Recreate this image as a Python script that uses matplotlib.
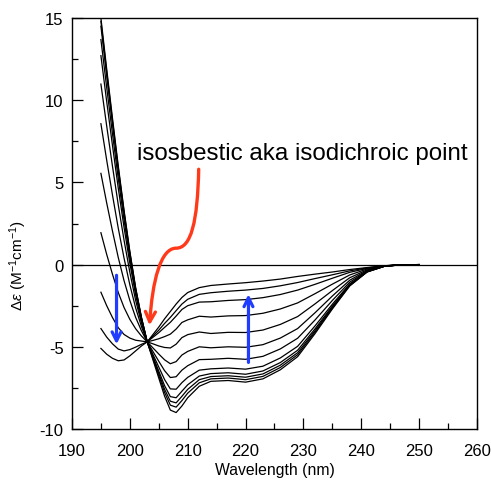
import matplotlib
matplotlib.use('Agg')
import matplotlib.pyplot as plt
from matplotlib.ticker import MultipleLocator
from matplotlib.patches import FancyArrowPatch
from matplotlib.path import Path
import numpy as np

plt.rcParams['font.family'] = ['Liberation Sans', 'DejaVu Sans']
plt.rcParams['axes.unicode_minus'] = False
plt.rcParams['mathtext.fontset'] = 'custom'
plt.rcParams['mathtext.rm'] = 'Liberation Sans'
plt.rcParams['mathtext.it'] = 'Liberation Sans:italic'

# wavelengths (nm) where the spectra were read
wavelength = [195, 196, 197, 198, 199, 200, 201, 202, 203, 204, 205, 206, 207, 208, 209,
              210, 212, 214, 217, 220, 223, 226, 229, 232, 235, 238, 241, 244, 247, 250]

# CD spectra, from least ordered (coil) to most helical
spec_01 = [-5.1, -5.45, -5.7, -5.85, -5.8, -5.55, -5.25, -4.95, -4.7, -4.25, -3.8, -3.3, -2.85, -2.4, -2.0,
           -1.7, -1.4, -1.27, -1.18, -1.1, -1.0, -0.88, -0.72, -0.58, -0.45, -0.3, -0.18, -0.07, -0.01, 0.0]
spec_02 = [-3.89, -4.41, -4.82, -5.14, -5.25, -5.17, -5.02, -4.85, -4.7, -4.34, -3.99, -3.58, -3.21, -2.8, -2.4,
           -2.11, -1.81, -1.71, -1.62, -1.55, -1.45, -1.29, -1.09, -0.85, -0.62, -0.38, -0.2, -0.07, -0.01, 0.0]
spec_03 = [-1.68, -2.5, -3.22, -3.84, -4.25, -4.47, -4.6, -4.65, -4.7, -4.42, -4.14, -3.82, -3.51, -3.13, -2.73,
           -2.5, -2.28, -2.26, -2.18, -2.13, -2.01, -1.82, -1.55, -1.2, -0.83, -0.47, -0.23, -0.08, -0.01, 0.0]
spec_04 = [1.94, 0.62, -0.59, -1.7, -2.61, -3.33, -3.9, -4.34, -4.7, -4.61, -4.51, -4.38, -4.23, -3.92, -3.52,
           -3.36, -3.14, -3.19, -3.12, -3.1, -2.96, -2.7, -2.33, -1.77, -1.19, -0.63, -0.27, -0.08, -0.01, 0.0]
spec_05 = [5.55, 3.75, 2.04, 0.43, -0.98, -2.18, -3.21, -4.02, -4.7, -4.82, -4.95, -5.04, -5.07, -4.84, -4.44,
           -4.26, -4.1, -4.19, -4.12, -4.13, -3.98, -3.64, -3.16, -2.39, -1.58, -0.8, -0.32, -0.09, -0.01, 0.0]
spec_06 = [8.57, 6.35, 4.23, 2.21, 0.39, -1.23, -2.63, -3.76, -4.7, -5.07, -5.44, -5.79, -6.03, -5.9, -5.5,
           -5.28, -5.0, -5.06, -5.0, -5.03, -4.87, -4.47, -3.89, -2.93, -1.91, -0.95, -0.36, -0.09, -0.01, 0.0]
spec_07 = [10.98, 8.43, 5.98, 3.63, 1.48, -0.47, -2.17, -3.55, -4.7, -5.29, -5.88, -6.45, -6.87, -6.82, -6.42,
           -6.15, -5.78, -5.76, -5.7, -5.76, -5.58, -5.13, -4.48, -3.37, -2.18, -1.07, -0.39, -0.09, -0.01, 0.0]
spec_08 = [12.71, 9.92, 7.24, 4.65, 2.26, 0.08, -1.84, -3.4, -4.7, -5.47, -6.23, -6.99, -7.56, -7.58, -7.18,
           -6.86, -6.42, -6.34, -6.29, -6.36, -6.18, -5.68, -4.97, -3.73, -2.41, -1.17, -0.41, -0.1, -0.01, 0.0]
spec_09 = [13.69, 10.77, 7.95, 5.23, 2.71, 0.39, -1.65, -3.31, -4.7, -5.59, -6.48, -7.36, -8.03, -8.1, -7.7,
           -7.31, -6.78, -6.63, -6.58, -6.67, -6.47, -5.96, -5.21, -3.91, -2.52, -1.22, -0.43, -0.1, -0.01, 0.0]
spec_10 = [14.5, 11.47, 8.54, 5.7, 3.07, 0.64, -1.5, -3.24, -4.7, -5.66, -6.62, -7.58, -8.31, -8.41, -8.01,
           -7.59, -7.0, -6.81, -6.76, -6.85, -6.65, -6.12, -5.36, -4.02, -2.59, -1.25, -0.44, -0.1, -0.01, 0.0]
spec_11 = [14.8, 11.73, 8.75, 5.88, 3.21, 0.74, -1.44, -3.22, -4.7, -5.72, -6.75, -7.77, -8.55, -8.67, -8.27,
           -7.82, -7.19, -6.95, -6.9, -7.0, -6.8, -6.26, -5.48, -4.11, -2.64, -1.28, -0.44, -0.1, -0.01, 0.0]
spec_12 = [15.0, 11.9, 8.9, 6.0, 3.3, 0.8, -1.4, -3.2, -4.7, -5.8, -6.9, -8.0, -8.85, -9.0, -8.6,
           -8.1, -7.4, -7.1, -7.05, -7.15, -6.95, -6.4, -5.6, -4.2, -2.7, -1.3, -0.45, -0.1, -0.01, 0.0]

spectra = [spec_01, spec_02, spec_03, spec_04, spec_05, spec_06,
           spec_07, spec_08, spec_09, spec_10, spec_11, spec_12]

annot_text = 'isosbestic aka isodichroic point'

fig = plt.figure(figsize=(4.91, 4.85), dpi=100)
ax = fig.add_axes([0.1466, 0.1134, 0.8249, 0.8474])

ax.axhline(0, color='black', lw=0.9, zorder=1)
for s in spectra:
    ax.plot(wavelength, s, color='black', lw=0.9, zorder=2)

# red curved pointer to the isosbestic point (bezier in data coords)
red_path = Path([(211.9, 5.8), (211.7, 2.6), (210.6, 1.0), (208.0, 1.0),
                 (205.3, 1.0), (203.9, -1.0), (203.4, -3.7)],
                [Path.MOVETO, Path.CURVE4, Path.CURVE4, Path.CURVE4,
                 Path.CURVE4, Path.CURVE4, Path.CURVE4])
red_arrow = FancyArrowPatch(path=red_path, arrowstyle='->', color='#ff3a1a', lw=2.4,
                            mutation_scale=18, zorder=3)
ax.add_patch(red_arrow)

# blue arrows showing the direction of change
ax.annotate('', xy=(197.7, -4.85), xytext=(197.7, -0.65),
            arrowprops=dict(arrowstyle='->', color='#1f3cff', lw=2.3,
                            mutation_scale=16, shrinkA=0, shrinkB=0), zorder=3)
ax.annotate('', xy=(220.5, -1.8), xytext=(220.5, -5.95),
            arrowprops=dict(arrowstyle='->', color='#1f3cff', lw=2.3,
                            mutation_scale=16, shrinkA=0, shrinkB=0), zorder=3)

ax.text(201.2, 6.8, annot_text, fontsize=17.4, va='center', ha='left')

ax.set_xlim(190, 260)
ax.set_ylim(-10, 15)
ax.xaxis.set_major_locator(MultipleLocator(10))
ax.xaxis.set_minor_locator(MultipleLocator(5))
ax.yaxis.set_major_locator(MultipleLocator(5))
ax.yaxis.set_minor_locator(MultipleLocator(2.5))
ax.tick_params(which='both', direction='in', top=False, right=False, labelsize=12, width=0.9)
ax.tick_params(which='major', length=8)
ax.tick_params(which='minor', length=4)
ax.tick_params(axis='x', which='major', pad=10)
ax.tick_params(axis='y', which='major', pad=6)
for sp in ax.spines.values():
    sp.set_linewidth(1.0)

ax.set_xlabel('Wavelength (nm)', fontsize=11.3, labelpad=3)
ax.set_ylabel(r'$\Delta\varepsilon$ (M$^{-1}$cm$^{-1}$)', fontsize=11)
ax.yaxis.set_label_coords(-0.105, 0.40)

plt.savefig('out.png', dpi=100)
